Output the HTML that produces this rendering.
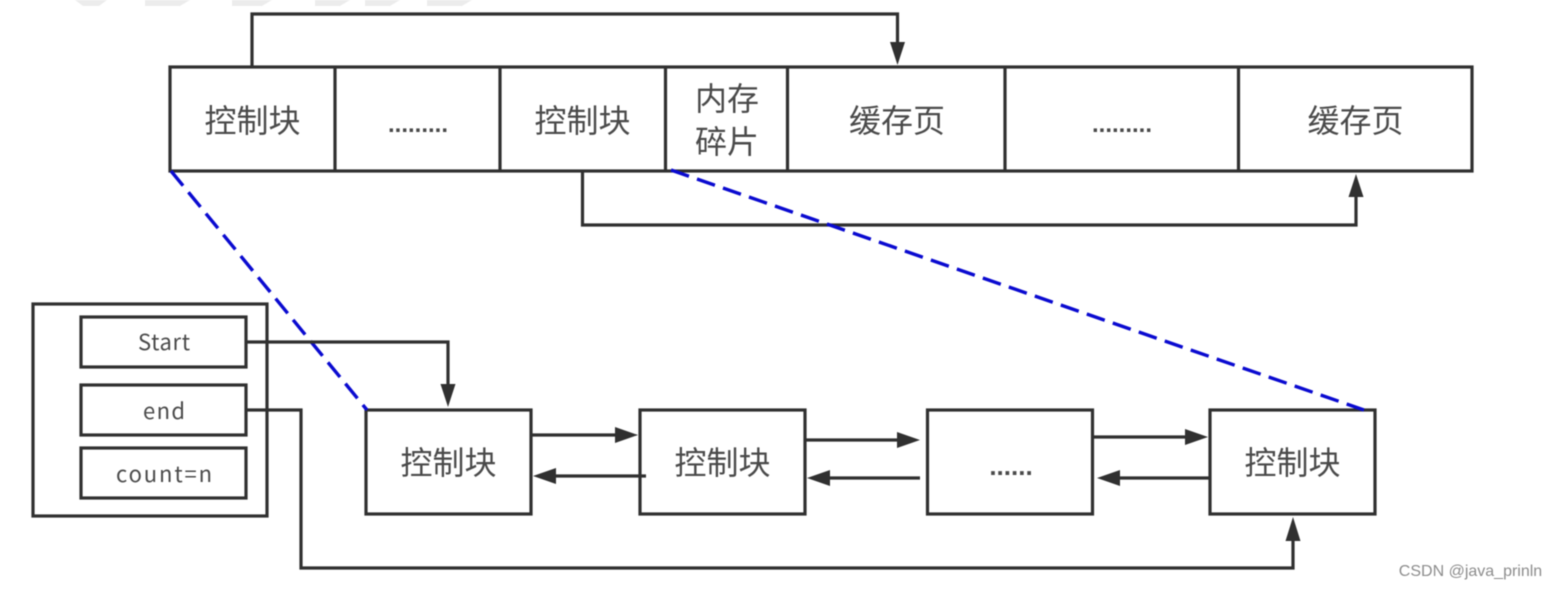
<!DOCTYPE html>
<html><head><meta charset="utf-8">
<style>
html,body{margin:0;padding:0;background:#fff;width:1555px;height:589px;overflow:hidden}
svg{display:block;filter:blur(0.4px)}
text{font-family:"Liberation Sans","Noto Sans CJK SC",sans-serif;fill:#4a4a4a;text-anchor:middle}
.b{fill:none;stroke:#303030;stroke-width:3.2}
.c{fill:none;stroke:#303030;stroke-width:3.2}
.a{fill:#303030;stroke:none}
.d{fill:none;stroke:#0a0ad0;stroke-width:3.4;stroke-dasharray:19 8.5}
.z{font-size:32px}
.s{font-size:22px;font-family:"Noto Sans CJK SC","Liberation Sans",sans-serif}
.p{font-size:24px;font-weight:bold}
</style></head><body>
<svg width="1555" height="589" viewBox="0 0 1555 589" xmlns="http://www.w3.org/2000/svg">
<g fill="#ececec">
<polygon points="75,0 107,0 99,6 83,6"/>
<polygon points="145,0 190,0 180,6 145,6"/>
<polygon points="232,0 272,0 262,6 232,6"/>
<polygon points="315,0 350,0 340,6 315,6"/>
<polygon points="365,0 400,0 390,6 365,6"/>
<polygon points="427,0 472,0 462,6 427,6"/>
</g>

<rect class="b" x="170" y="67" width="1302" height="104"/>
<path class="c" d="M335 67V171M500 67V171M665.500 67V171M787.500 67V171M1005 67V171M1238.500 67V171"/>

<path class="c" d="M252 67V14H897.500V46"/>
<polygon class="a" points="890,42 905,42 897.500,65"/>
<path class="c" d="M582.500 171V225H1356V195"/>
<polygon class="a" points="1348.500,197 1363.500,197 1356,174"/>

<rect class="b" x="33" y="304" width="234" height="212"/>
<rect class="b" x="81" y="317" width="165" height="50"/>
<rect class="b" x="81" y="385" width="165" height="50"/>
<rect class="b" x="81" y="448" width="165" height="50"/>

<rect class="b" x="366" y="410" width="165" height="104"/>
<rect class="b" x="640" y="410" width="165" height="104"/>
<rect class="b" x="927.500" y="410" width="165" height="104"/>
<rect class="b" x="1210" y="410" width="165" height="104"/>

<path class="d" d="M171 171L367 410"/>
<path class="d" d="M671 170L1364 410"/>

<path class="c" d="M246 342H448V388"/>
<polygon class="a" points="440.500,384 455.500,384 448,407"/>
<path class="c" d="M246 410H301V568H1293V538"/>
<polygon class="a" points="1285.500,541 1300.500,541 1293,517"/>

<path class="c" d="M532 435H618"/>
<polygon class="a" points="615,427 615,443 638,435"/>
<path class="c" d="M646 476H552"/>
<polygon class="a" points="556,468 556,484 533,476"/>
<path class="c" d="M806 440H900"/>
<polygon class="a" points="897,432 897,448 920,440"/>
<path class="c" d="M920 478H828"/>
<polygon class="a" points="830,470 830,486 807,478"/>
<path class="c" d="M1093 437H1188"/>
<polygon class="a" points="1185,429 1185,445 1208,437"/>
<path class="c" d="M1210 478H1118"/>
<polygon class="a" points="1120,470 1120,486 1097,478"/>

<text class="z" x="252.500" y="132">控制块</text>
<text class="p" x="418" y="132">.........</text>
<text class="z" x="582.500" y="132">控制块</text>
<text class="z" x="727" y="110">内存</text>
<text class="z" x="727" y="153">碎片</text>
<text class="z" x="897" y="132">缓存页</text>
<text class="p" x="1122" y="132">.........</text>
<text class="z" x="1355.500" y="132">缓存页</text>
<text class="s" x="164" y="350" textLength="52" lengthAdjust="spacing">Start</text>
<text class="s" x="164" y="419" textLength="42" lengthAdjust="spacing">end</text>
<text class="s" x="164" y="482" textLength="96" lengthAdjust="spacing">count=n</text>
<text class="z" x="448.500" y="474">控制块</text>
<text class="z" x="722.500" y="474">控制块</text>
<text class="p" x="1011" y="475" style="font-size:26px">......</text>
<text class="z" x="1292.500" y="474">控制块</text>
<text x="1470.500" y="576" style="font-size:16px;fill:#8c8c8c">CSDN @java_prinln</text>
</svg>
</body></html>
